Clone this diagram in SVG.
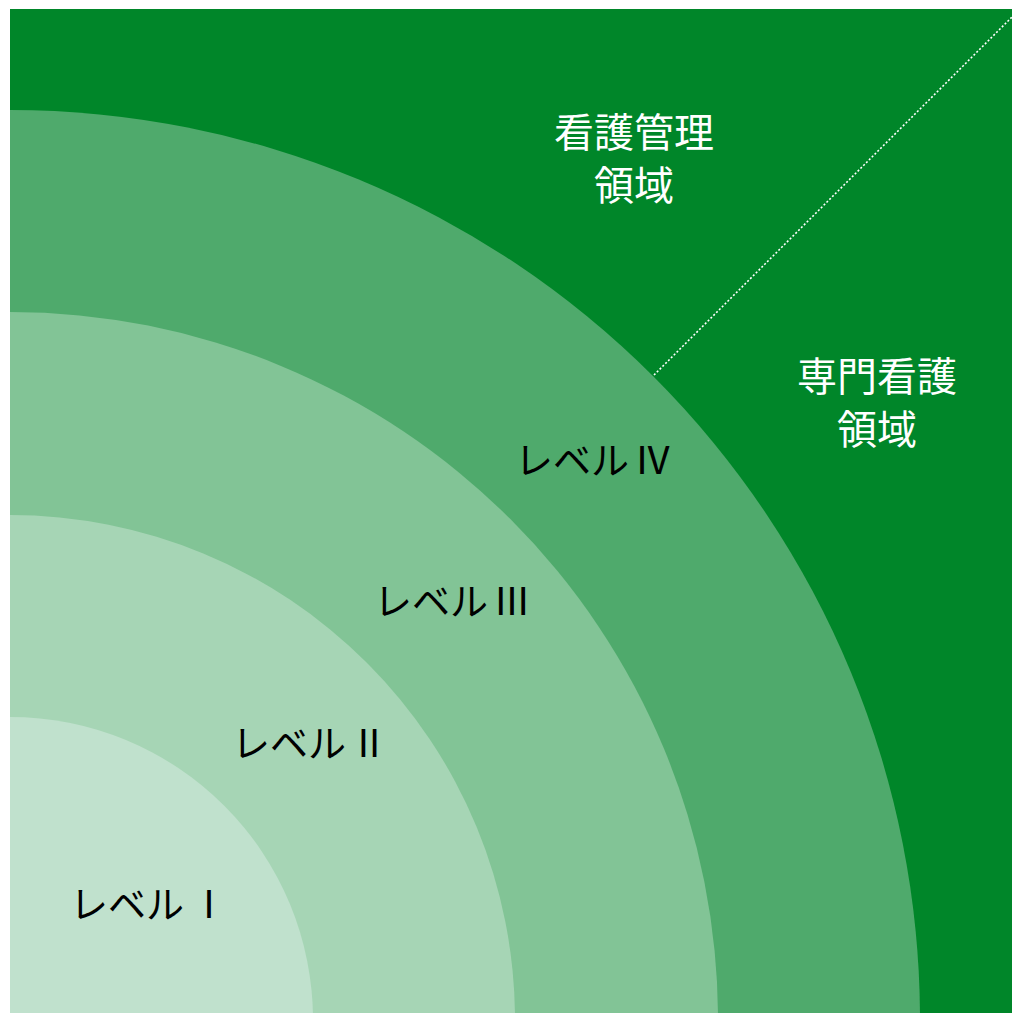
<svg xmlns="http://www.w3.org/2000/svg" width="1012" height="1013" viewBox="0 0 1012 1013">
<style>
.jp{font-family:"Noto Sans CJK JP","Noto Sans",sans-serif}
.dom{font-size:40px;fill:#ffffff;text-anchor:middle}
.lvl{font-size:38px;fill:#000000}
.num{text-anchor:middle}
</style>
<defs><clipPath id="sq"><rect x="10" y="9" width="1002" height="1004"/></clipPath></defs>
<rect width="1012" height="1013" fill="#ffffff"/>
<g clip-path="url(#sq)">
<rect id="bg" x="10" y="9" width="1002" height="1004" fill="#008629"/>
<circle id="ring4" cx="10" cy="1020" r="910" fill="#4faa6c"/>
<circle id="ring3" cx="10" cy="1020" r="708" fill="#82c496"/>
<circle id="ring2" cx="10" cy="1020" r="505" fill="#a6d5b5"/>
<circle id="ring1" cx="10" cy="1020" r="303" fill="#c0e1cd"/>
</g>
<g id="connectors">
<line x1="654" y1="375" x2="1012" y2="17" stroke="#ffffff" stroke-width="1.6" stroke-dasharray="2 2"/>
</g>
<g id="management" class="jp dom"><text x="634" y="147">看護管理</text><text x="634" y="200">領域</text></g>
<g id="specialist" class="jp dom"><text x="877" y="391">専門看護</text><text x="877" y="444">領域</text></g>
<g id="level4" class="jp lvl"><text x="515" y="474">レベル<tspan class="num" x="653">Ⅳ</tspan></text></g>
<g id="level3" class="jp lvl"><text x="374" y="615">レベル<tspan class="num" x="512">Ⅲ</tspan></text></g>
<g id="level2" class="jp lvl"><text x="232" y="757">レベル<tspan class="num" x="369">Ⅱ</tspan></text></g>
<g id="level1" class="jp lvl"><text x="70" y="918">レベル<tspan class="num" x="209">Ⅰ</tspan></text></g>
</svg>
